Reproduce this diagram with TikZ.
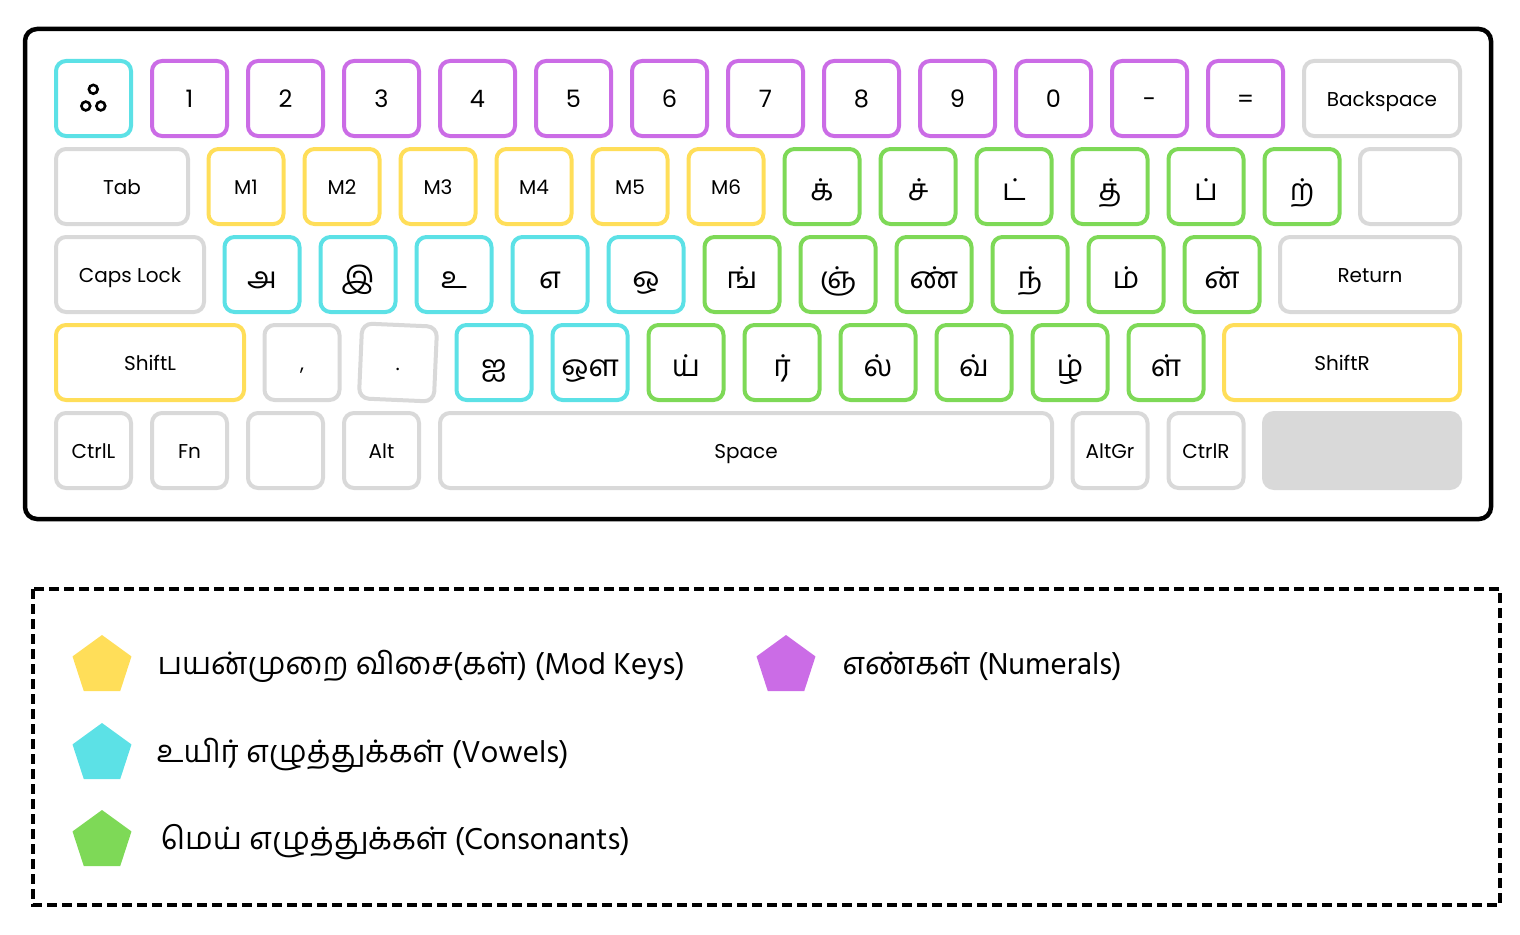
\documentclass[tikz,border=0pt]{standalone}
\usepackage{fontspec}
\usetikzlibrary{shapes.geometric}
\newfontfamily\keyfont{Poppins}
\newfontfamily\tamfont[Script=Tamil]{Hind Madurai}
\definecolor{kcyan}{HTML}{5CE1E6}
\definecolor{kpurple}{HTML}{CB6CE6}
\definecolor{kyellow}{HTML}{FFDE59}
\definecolor{kgreen}{HTML}{7ED957}
\definecolor{kgrey}{HTML}{D9D9D9}
\begin{document}
\begin{tikzpicture}[x=1pt,y=-1pt,
  keybox/.style={draw, line width=4pt, rounded corners=10pt, minimum width=75pt, minimum height=75pt, inner sep=0pt, fill=white},
  lat/.style={font=\keyfont\fontsize{20}{24}\selectfont, text height=16pt, text depth=0pt},
  num/.style={font=\keyfont\fontsize{24}{28}\selectfont, text height=18pt, text depth=0pt},
  tam/.style={font=\tamfont\fontsize{30}{36}\selectfont, text height=28pt, text depth=0pt},
  cy/.style={keybox, draw=kcyan},
  pu/.style={keybox, draw=kpurple},
  ye/.style={keybox, draw=kyellow},
  gr/.style={keybox, draw=kgreen},
  gy/.style={keybox, draw=kgrey},
  penta/.style={regular polygon, regular polygon sides=5, minimum size=62pt, inner sep=0pt, draw=none},
  legtext/.style={anchor=base west, font=\tamfont\fontsize{31}{36}\selectfont}
]
\useasboundingbox (0,0) rectangle (1520,934);
% frame
\draw[line width=4.5pt, rounded corners=12pt] (25,29) rectangle (1491,519);

% row 1
\node[cy] (kmod) at (93.5,98.5) {};
\draw[line width=2.6pt] (93.3,89.3) circle (4.4pt) (85.8,106) circle (4.4pt) (100.8,106) circle (4.4pt);
\foreach \t [count=\i] in {1,2,3,4,5,6,7,8,9,0,-,=}
  \node[pu, num] (n\i) at (93.5+96*\i,98.5) {\t};
\node[gy, lat, minimum width=156pt] (bksp) at (1382,98.5) {Backspace};

% row 2
\node[gy, lat, minimum width=132pt] (tab) at (122,186.5) {Tab};
\foreach \t [count=\i from 0] in {M1,M2,M3,M4,M5,M6}
  \node[ye, lat] (m\i) at (246+96*\i,186.5) {\t};
\foreach \t [count=\i from 6] in {க்,ச்,ட்,த்,ப்,ற்}
  \node[gr, tam] (c\i) at (246+96*\i,186.5) {\t};
\node[gy, minimum width=100pt] (blank2) at (1410,186.5) {};

% row 3
\node[gy, lat, minimum width=148pt] (caps) at (130,274.5) {Caps Lock};
\foreach \t [count=\i from 0] in {அ,இ,உ,எ,ஒ}
  \node[cy, tam] (v\i) at (262+96*\i,274.5) {\t};
\foreach \t [count=\i from 5] in {ங்,ஞ்,ண்,ந்,ம்,ன்}
  \node[gr, tam] (d\i) at (262+96*\i,274.5) {\t};
\node[gy, lat, minimum width=180pt] (ret) at (1370,274.5) {Return};

% row 4
\node[ye, lat, minimum width=188pt] (shl) at (150,362.5) {ShiftL};
\node[gy, lat] (comma) at (302,362.5) {,};
\node[gy, lat, rotate=-2.5] (dot) at (398,362.5) {.};
\node[cy, tam] (ai) at (494,362.5) {ஐ};
\node[cy, tam] (au) at (590,362.5) {ஔ};
\foreach \t [count=\i from 0] in {ய்,ர்,ல்,வ்,ழ்,ள்}
  \node[gr, tam] (e\i) at (686+96*\i,362.5) {\t};
\node[ye, lat, minimum width=236pt] (shr) at (1342,362.5) {ShiftR};

% row 5
\node[gy, lat] (ctl) at (93.5,450.5) {CtrlL};
\node[gy, lat] (fn) at (189.5,450.5) {Fn};
\node[gy] (blank5) at (285.5,450.5) {};
\node[gy, lat] (alt) at (381.5,450.5) {Alt};
\node[gy, lat, minimum width=612pt] (space) at (746,450.5) {Space};
\node[gy, lat] (altgr) at (1110,450.5) {AltGr};
\node[gy, lat] (ctr) at (1206,450.5) {CtrlR};
\node[gy, fill=kgrey, minimum width=196pt] (greykey) at (1362,450.5) {};

% legend
\draw[line width=3.5pt, dash pattern=on 10pt off 5pt] (33,589) rectangle (1500,905);
\node[penta, fill=kyellow] (py) at (102,666) {};
\node[legtext] (ty) at (154,674) {பயன்முறை விசை(கள்) (Mod Keys)};
\node[penta, fill=kpurple] (pp) at (786,666) {};
\node[legtext] (tp) at (839,674) {எண்கள் (Numerals)};
\node[penta, fill=kcyan] (pc) at (102,754) {};
\node[legtext] (tc) at (153,762) {உயிர் எழுத்துக்கள் (Vowels)};
\node[penta, fill=kgreen] (pg) at (102,841) {};
\node[legtext] (tg) at (157,849) {மெய் எழுத்துக்கள் (Consonants)};
\end{tikzpicture}
\end{document}
